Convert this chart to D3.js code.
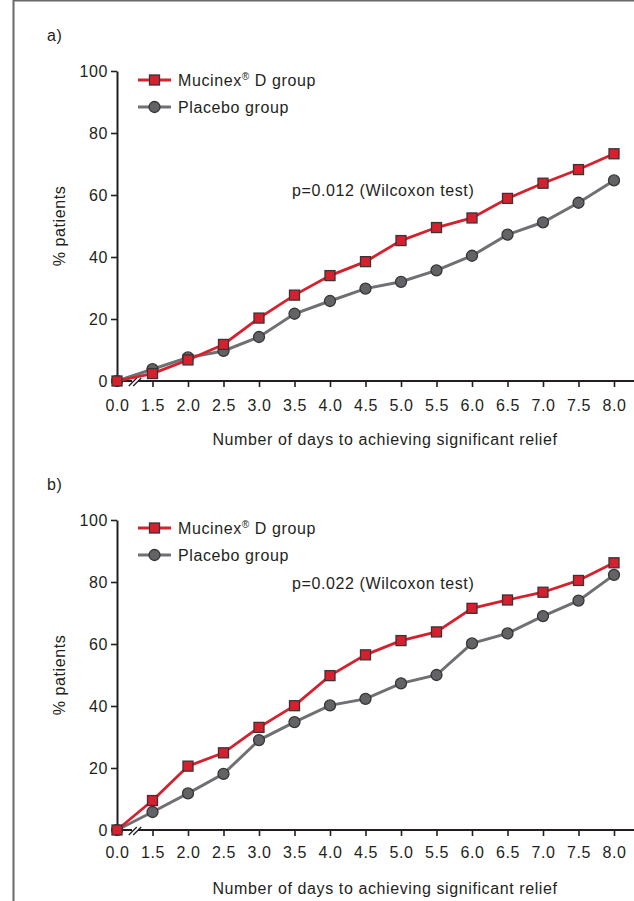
<!DOCTYPE html>
<html>
<head>
<meta charset="utf-8">
<script src="https://cdn.jsdelivr.net/npm/d3@7"></script>
<style>
  body { margin: 0; background: #fff; }
  svg text { font-family: "Liberation Sans", Arial, Helvetica, sans-serif; fill: #231f20; letter-spacing: 0.6px; }
</style>
</head>
<body>
<div id="chart"></div>
<script>
// Chart data
var days = ["0.0", "1.5", "2.0", "2.5", "3.0", "3.5", "4.0", "4.5", "5.0", "5.5", "6.0", "6.5", "7.0", "7.5", "8.0"];
var yTicks = [0, 20, 40, 60, 80, 100];

// panel a)
var mucinexA = [0, 2.4, 6.8, 11.8, 20.3, 27.7, 34.0, 38.5, 45.3, 49.5, 52.6, 58.9, 63.8, 68.2, 73.3];
var placeboA = [0, 3.8, 7.6, 9.7, 14.2, 21.7, 25.8, 29.8, 32.0, 35.7, 40.4, 47.2, 51.2, 57.5, 64.7];

// panel b)
var mucinexB = [0, 9.5, 20.6, 24.9, 33.1, 40.1, 49.8, 56.5, 61.1, 63.9, 71.5, 74.2, 76.7, 80.5, 86.2];
var placeboB = [0, 5.8, 11.8, 18.1, 29.0, 34.8, 40.2, 42.3, 47.3, 50.0, 60.2, 63.4, 69.0, 74.0, 82.3];

var seriesNames = ["Mucinex\u00AE D group", "Placebo group"];

var svgWidth = 634;
var svgHeight = 901;
var fs = "16px";

var red = "#d7202e";
var redLine = "#d7202e";
var grey = "#626366";
var greyLine = "#6f7073";
var edge = "#3a3436";

var svg = d3.select("#chart")
  .append("svg")
  .attr("width", svgWidth)
  .attr("height", svgHeight);

// frame (top and left edges only are visible)
svg.append("line").attr("x1", 13.5).attr("x2", 13.5).attr("y1", 0).attr("y2", svgHeight)
  .attr("stroke", "#6b676a").attr("stroke-width", 2);
svg.append("line").attr("x1", 13).attr("x2", svgWidth).attr("y1", 0.5).attr("y2", 0.5)
  .attr("stroke", "#6b676a").attr("stroke-width", 2);

var x = d3.scalePoint()
  .domain(days)
  .range([117, 614]);

function drawPanel(opts) {
  var g = svg.append("g");

  var y = d3.scaleLinear()
    .domain([0, 100])
    .range([opts.y0, opts.y100]);

  // panel letter
  g.append("text")
    .attr("x", 47)
    .attr("y", opts.y100 - 30)
    .attr("font-size", fs)
    .text(opts.label);

  // y axis
  var yAxis = g.append("g")
    .attr("transform", "translate(117,0)")
    .call(d3.axisLeft(y).tickValues(yTicks).tickSize(6).tickPadding(4).tickSizeOuter(0));
  yAxis.select(".domain").attr("stroke", "#231f20").attr("stroke-width", 2);
  yAxis.selectAll(".tick line").attr("stroke", "#231f20").attr("stroke-width", 1.6);
  yAxis.selectAll("text").attr("font-size", fs).style("fill", "#231f20").attr("dx", 1);

  // x axis
  var xAxis = g.append("g")
    .attr("transform", "translate(0," + opts.y0 + ")")
    .call(d3.axisBottom(x).tickSize(6).tickPadding(opts.xPad).tickSizeOuter(0));
  xAxis.select(".domain").remove();
  xAxis.append("line")
    .attr("x1", 116).attr("x2", svgWidth)
    .attr("stroke", "#231f20").attr("stroke-width", 2);
  xAxis.selectAll(".tick line").attr("stroke", "#231f20").attr("stroke-width", 1.6);
  xAxis.selectAll("text").attr("font-size", fs).style("fill", "#231f20");

  // axis break marks
  var brk = xAxis.append("g").attr("transform", "translate(135,0)");
  brk.append("rect").attr("x", -3).attr("y", -2).attr("width", 6).attr("height", 4).attr("fill", "#fff");
  [-2.2, 2.2].forEach(function(dx) {
    brk.append("line")
      .attr("x1", dx - 4).attr("y1", 5)
      .attr("x2", dx + 4).attr("y2", -3)
      .attr("stroke", "#231f20").attr("stroke-width", 1.3);
  });

  // axis titles
  g.append("text")
    .attr("x", 385)
    .attr("y", opts.y0 + 64)
    .attr("text-anchor", "middle")
    .attr("font-size", fs)
    .text("Number of days to achieving significant relief");

  g.append("text")
    .attr("transform", "translate(65," + ((opts.y0 + opts.y100) / 2) + ") rotate(-90)")
    .attr("text-anchor", "middle")
    .attr("font-size", fs)
    .text("% patients");

  // p value
  g.append("text")
    .attr("x", 292)
    .attr("y", opts.pY)
    .attr("font-size", fs)
    .text(opts.pText);

  var line = d3.line()
    .x(function(d, i) { return x(days[i]); })
    .y(function(d) { return y(d); });

  // placebo series
  g.append("path")
    .datum(opts.placebo)
    .attr("d", line)
    .attr("fill", "none")
    .attr("stroke", greyLine)
    .attr("stroke-width", 3);
  g.selectAll(".pl")
    .data(opts.placebo)
    .enter()
    .append("circle")
    .attr("cx", function(d, i) { return x(days[i]); })
    .attr("cy", function(d) { return y(d); })
    .attr("r", 5.5)
    .attr("fill", grey)
    .attr("stroke", edge)
    .attr("stroke-width", 1.3);

  // mucinex series
  g.append("path")
    .datum(opts.mucinex)
    .attr("d", line)
    .attr("fill", "none")
    .attr("stroke", redLine)
    .attr("stroke-width", 2.8);
  g.selectAll(".mu")
    .data(opts.mucinex)
    .enter()
    .append("rect")
    .attr("x", function(d, i) { return x(days[i]) - 5; })
    .attr("y", function(d) { return y(d) - 5; })
    .attr("width", 10)
    .attr("height", 10)
    .attr("fill", red)
    .attr("stroke", edge)
    .attr("stroke-width", 1.3);

  // legend
  var leg = g.append("g");
  var ly = [opts.legY, opts.legY + 27];
  [0, 1].forEach(function(k) {
    leg.append("line")
      .attr("x1", 138).attr("x2", 171)
      .attr("y1", ly[k]).attr("y2", ly[k])
      .attr("stroke", k === 0 ? redLine : greyLine)
      .attr("stroke-width", 3);
    if (k === 0) {
      leg.append("rect")
        .attr("x", 149.5).attr("y", ly[k] - 5)
        .attr("width", 10).attr("height", 10)
        .attr("fill", red).attr("stroke", edge).attr("stroke-width", 1.3);
    } else {
      leg.append("circle")
        .attr("cx", 154.5).attr("cy", ly[k]).attr("r", 5.5)
        .attr("fill", grey).attr("stroke", edge).attr("stroke-width", 1.3);
    }
  });
  var t0 = leg.append("text").attr("x", 178).attr("y", ly[0] + 5.5).attr("font-size", fs);
  t0.append("tspan").text("Mucinex");
  t0.append("tspan").attr("font-size", "10px").attr("dy", -6).text("\u00AE");
  t0.append("tspan").attr("dy", 6).text(" D group");
  leg.append("text").attr("x", 178).attr("y", ly[1] + 5.5).attr("font-size", fs).text(seriesNames[1]);
}

drawPanel({
  label: "a)",
  y0: 381, y100: 71,
  mucinex: mucinexA, placebo: placeboA,
  xPad: 13,
  legY: 80,
  pY: 195.5,
  pText: "p=0.012 (Wilcoxon test)"
});

drawPanel({
  label: "b)",
  y0: 830, y100: 520,
  mucinex: mucinexB, placebo: placeboB,
  xPad: 11,
  legY: 528,
  pY: 588.5,
  pText: "p=0.022 (Wilcoxon test)"
});
</script>
</body>
</html>
